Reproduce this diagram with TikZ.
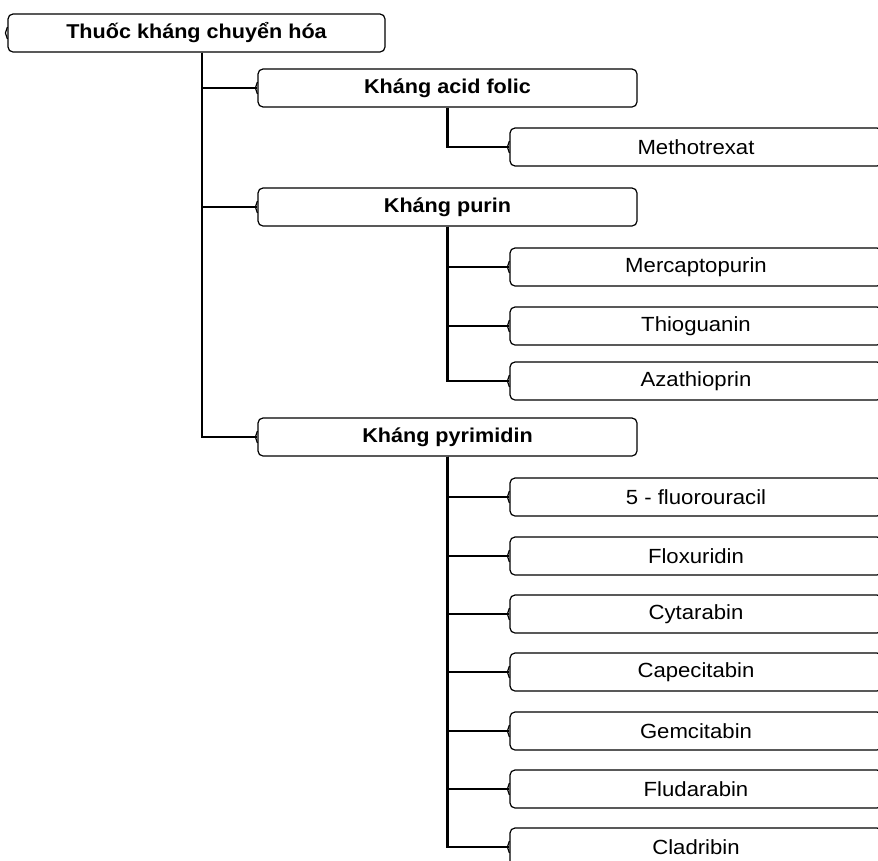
\documentclass[tikz,border=0pt]{standalone}
\usepackage{fontspec}
\setmainfont{Liberation Sans}[FakeStretch=1.08]
\begin{document}
\begin{tikzpicture}[x=1pt,y=-1pt,
  box/.style={draw, line width=1.2pt, rounded corners=5pt, inner sep=0pt, minimum height=38pt, font=\fontsize{20.5}{24}\selectfont},
  rootbox/.style={box, minimum width=377pt, font=\fontsize{20}{24}\selectfont\bfseries},
  midbox/.style={box, minimum width=379pt, font=\fontsize{20}{24}\selectfont\bfseries},
  leafbox/.style={box, minimum width=372pt},
  notch/.style={draw, line width=1.2pt, line join=round},
  conn/.style={draw, line width=2.3pt}]
\clip (0,0) rectangle (878,860);
\useasboundingbox (0,0) rectangle (878,860);
\fill[white] (0,0) rectangle (878,860);

\node[rootbox] (root) at (196.5,33) {Thuốc kháng chuyển hóa};
\node[midbox] (acid) at (447.5,88) {Kháng acid folic};
\node[midbox] (purin) at (447.5,207) {Kháng purin};
\node[midbox] (pyr) at (447.5,437) {Kháng pyrimidin};

\node[leafbox] (metho) at (696,147) {Methotrexat};
\node[leafbox] (merc) at (696,267) {Mercaptopurin};
\node[leafbox] (thio) at (696,326) {Thioguanin};
\node[leafbox] (aza) at (696,381) {Azathioprin};
\node[leafbox] (fu) at (696,497) {5 - fluorouracil};
\node[leafbox] (flox) at (696,556) {Floxuridin};
\node[leafbox] (cyt) at (696,614) {Cytarabin};
\node[leafbox] (cap) at (696,672) {Capecitabin};
\node[leafbox] (gem) at (696,731) {Gemcitabin};
\node[leafbox] (flu) at (696,789) {Fludarabin};
\node[leafbox] (cla) at (696,847) {Cladribin};

\foreach \n in {root,acid,purin,pyr,metho,merc,thio,aza,fu,flox,cyt,cap,gem,flu,cla}
  \draw[notch] ([yshift=6pt]\n.west) -- ([xshift=-2pt]\n.west) -- ([yshift=-6pt]\n.west);

\coordinate (t0) at (202,0);
\draw[conn] (t0 |- root.south) |- (acid.west);
\draw[conn] (t0 |- root.south) |- (purin.west);
\draw[conn] (t0 |- root.south) |- (pyr.west);

\draw[conn] (acid.south) |- (metho.west);
\foreach \n in {merc,thio,aza} \draw[conn] (purin.south) |- (\n.west);
\foreach \n in {fu,flox,cyt,cap,gem,flu,cla} \draw[conn] (pyr.south) |- (\n.west);
\end{tikzpicture}
\end{document}
